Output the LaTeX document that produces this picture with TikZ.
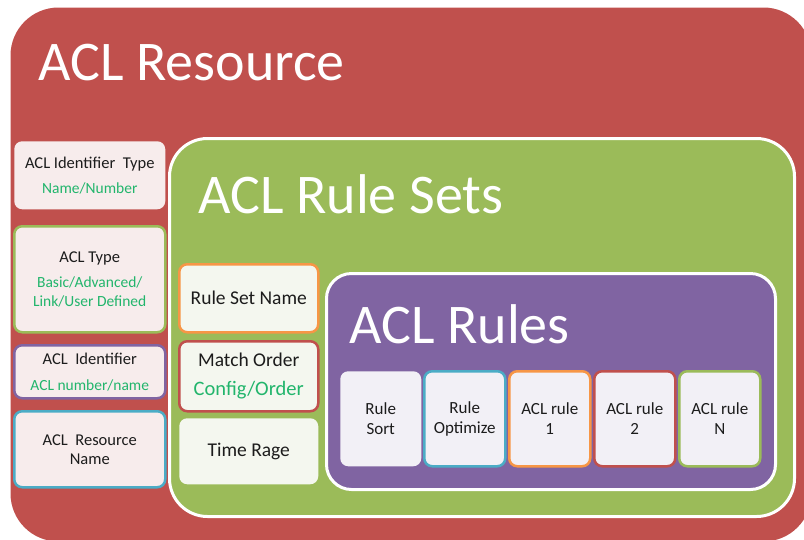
\documentclass[tikz,border=0pt]{standalone}
\usepackage{fontspec}
\setmainfont{Carlito}
\definecolor{resred}{HTML}{C0504D}
\definecolor{setgreen}{HTML}{9BBB59}
\definecolor{rulepurple}{HTML}{8064A2}
\definecolor{edgeblue}{HTML}{4BACC6}
\definecolor{edgeorange}{HTML}{F79646}
\definecolor{valgreen}{HTML}{22B56C}
\definecolor{inkdark}{HTML}{1C1C1C}
\definecolor{pinkfill}{HTML}{F7ECEC}
\definecolor{greenfill}{HTML}{F4F7EF}
\definecolor{lilacfill}{HTML}{F2F0F6}
\newcommand{\val}[1]{\textcolor{valgreen}{\fontsize{15.5}{18}\selectfont #1}}
\begin{document}
\begin{tikzpicture}[x=1pt,y=-1pt,
  container/.style={anchor=north west, inner sep=0pt, line width=3pt, draw=white},
  heading/.style={anchor=base west, inner sep=0pt, text=white, font=\fontsize{56}{60}\selectfont},
  field/.style={anchor=north west, inner sep=0pt, rounded corners=8pt, align=center,
    text=inkdark, line width=2.5pt, font=\fontsize{16.5}{19}\selectfont},
  leftfield/.style={field, fill=pinkfill, minimum width=151pt},
  midfield/.style={field, fill=greenfill, minimum width=139pt, font=\fontsize{19.5}{22}\selectfont},
  rulefield/.style={field, fill=lilacfill, minimum width=81pt, minimum height=95pt,
    font=\fontsize{17}{19.5}\selectfont}]
\useasboundingbox (0,0) rectangle (804,539);
\begin{scope}
\clip (0,0) rectangle (804,539);
% outer resource container
\node[container, draw=none, fill=resred, rounded corners=48pt,
  minimum width=801pt, minimum height=534pt] (resource) at (9,6) {};
\end{scope}
\node[heading] (restitle) at (38,80) {ACL Resource};

% resource attributes
\node[leftfield, minimum height=68pt] (idtype) at (13,140)
  {ACL Identifier\ \ Type\\[6pt]\val{Name/Number}};
\node[leftfield, draw=setgreen, minimum height=106pt] (acltype) at (13,225)
  {ACL Type\\[6pt]\val{Basic/Advanced/}\\\val{Link/User Defined}};
\node[leftfield, draw=rulepurple, minimum height=53pt] (aclid) at (13,344)
  {ACL\ \ Identifier\\[7pt]\val{ACL number/name}};
\node[leftfield, draw=edgeblue, minimum height=76pt] (resname) at (13,410)
  {ACL\ \ Resource\\Name};

% rule set container
\node[container, fill=setgreen, rounded corners=38pt,
  minimum width=625pt, minimum height=378pt] (rulesets) at (168,137) {};
\node[heading] (settitle) at (198,213) {ACL Rule Sets};

\node[midfield, draw=edgeorange, minimum height=68pt] (setname) at (178,263) {Rule Set Name};
\node[midfield, draw=resred, minimum height=70pt] (matchorder) at (178,340)
  {Match Order\\[7pt]\textcolor{valgreen}{\fontsize{20.5}{22}\selectfont Config/Order}};
\node[midfield, minimum height=66pt] (timerange) at (178,417) {Time Rage};

% rules container
\node[container, fill=rulepurple, rounded corners=25pt,
  minimum width=449pt, minimum height=216pt] (rules) at (325,272) {};
\node[heading] (rulestitle) at (349,343) {ACL Rules};

\node[rulefield] (rulesort) at (339,370) {Rule\\Sort};
\node[rulefield, draw=edgeblue] (ruleopt) at (423,370) {Rule\\Optimize};
\node[rulefield, draw=edgeorange] (ruleone) at (508,370) {ACL rule\\1};
\node[rulefield, draw=resred] (ruletwo) at (593,370) {ACL rule\\2};
\node[rulefield, draw=setgreen] (rulen) at (678,370) {ACL rule\\N};
\end{tikzpicture}
\end{document}
